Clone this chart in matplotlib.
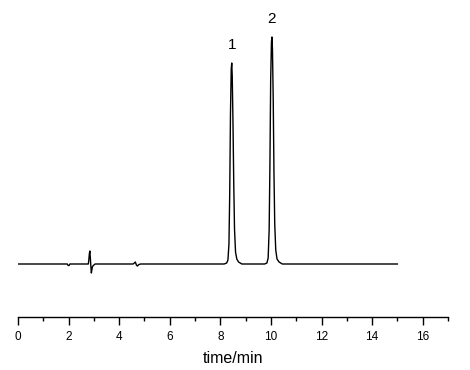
import matplotlib
matplotlib.use("Agg")
import matplotlib.pyplot as plt
import numpy as np

# Chromatogram trace points (time in min, signal in arbitrary units)
time_min = [0.0, 1.95, 1.98, 2.02, 2.05, 2.78, 2.80, 2.82, 2.84, 2.86, 2.88, 2.90, 2.92, 2.94,
            2.96, 3.00, 3.05, 3.10, 4.55, 4.60, 4.64, 4.68, 4.72, 4.78, 4.85,
            8.15, 8.25, 8.30, 8.34, 8.37, 8.40, 8.43, 8.45, 8.47, 8.50, 8.53, 8.56, 8.60, 8.65,
            8.72, 8.85,
            9.75, 9.84, 9.89, 9.93, 9.96, 9.99, 10.02, 10.04, 10.06, 10.09, 10.12, 10.15,
            10.19, 10.24, 10.32, 10.45, 15.0]
signal = [0, 0, -1.5, -1.5, 0, 0, 4, 10, 13, 6, -2, -9, -6, -3,
          -2, -1, 0, 0, 0, 1, 2, -1, -2, -0.5, 0,
          0, 1, 4, 20, 70, 150, 195, 201, 188, 140, 80, 35, 12, 5,
          2, 0,
          0, 1, 6, 35, 100, 185, 222, 227, 215, 165, 90, 40,
          14, 5, 2, 0, 0]

peak_labels = ["1", "2"]
peak_label_x = [8.45, 10.04]
peak_label_y = [212, 238]

x_ticks = [0, 2, 4, 6, 8, 10, 12, 14, 16]

plt.rcParams['font.family'] = ['Liberation Sans', 'DejaVu Sans']
fig = plt.figure(figsize=(4.7, 3.7), dpi=100)
ax = fig.add_axes([18/470, 53/370, 430/470, 317/370])
ax.plot(time_min, signal, color='black', lw=1.0)

for lab, lx, ly in zip(peak_labels, peak_label_x, peak_label_y):
    ax.text(lx, ly, lab, ha='center', va='bottom', fontsize=11)

ax.set_xlim(0, 17)
ax.set_ylim(-53, 264)
for s in ['left', 'right', 'top']:
    ax.spines[s].set_visible(False)
ax.spines['bottom'].set_linewidth(1.0)
ax.set_yticks([])
ax.set_xticks(x_ticks)
ax.set_xticks(np.arange(0, 18, 1), minor=True)
ax.tick_params(axis='x', which='major', direction='out', length=6, width=1, labelsize=8.5, pad=4)
ax.tick_params(axis='x', which='minor', direction='out', length=3, width=1)
ax.set_xlabel('time/min', fontsize=11.5, labelpad=6)
ax.patch.set_alpha(0)

fig.savefig('out.png', dpi=100)
